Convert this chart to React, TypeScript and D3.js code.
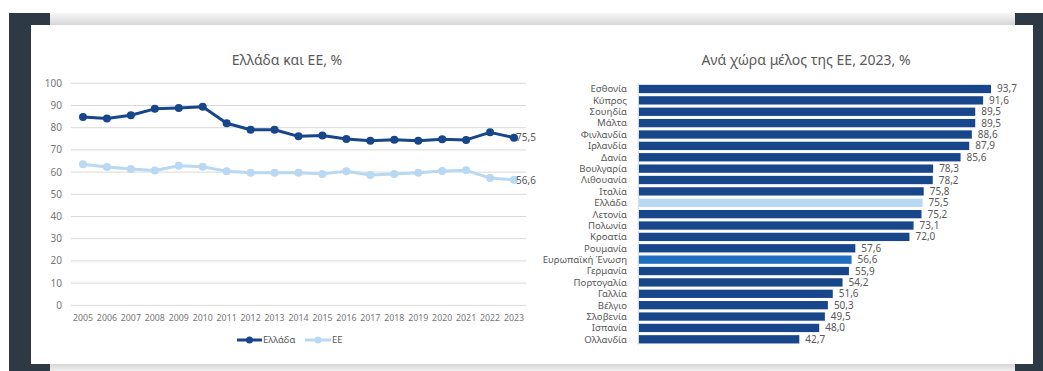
import React from "react";
import * as d3 from "d3";

const years = ["2005","2006","2007","2008","2009","2010","2011","2012","2013","2014","2015","2016","2017","2018","2019","2020","2021","2022","2023"];
const greece = [84.8,84.1,85.6,88.5,88.9,89.4,82.0,79.1,79.1,76.1,76.5,74.9,74.1,74.6,74.1,74.8,74.5,77.9,75.5];
const eu = [63.5,62.3,61.4,60.7,62.9,62.4,60.4,59.7,59.7,59.7,59.2,60.4,58.7,59.1,59.7,60.5,60.8,57.3,56.6];
const yTicks = [0,10,20,30,40,50,60,70,80,90,100];

const countries = ["Εσθονία","Κύπρος","Σουηδία","Μάλτα","Φινλανδία","Ιρλανδία","Δανία","Βουλγαρία","Λιθουανία","Ιταλία","Ελλάδα","Λετονία","Πολωνία","Κροατία","Ρουμανία","Ευρωπαϊκή Ένωση","Γερμανία","Πορτογαλία","Γαλλία","Βέλγιο","Σλοβενία","Ισπανία","Ολλανδία"];
const countryValues = [93.7,91.6,89.5,89.5,88.6,87.9,85.6,78.3,78.2,75.8,75.5,75.2,73.1,72.0,57.6,56.6,55.9,54.2,51.6,50.3,49.5,48.0,42.7];

const FONT = "'Noto Sans', sans-serif";
const DARK = "#17468a";
const LIGHT = "#b9d8f1";
const EUBAR = "#1f6fbe";
const TXT = "#595959";
const TICK = "#767676";
const GRID = "#d9d9d9";

const fmt = (v: number) => v.toFixed(1).replace(".", ",");

export default function App() {
  const x = d3.scaleBand<string>().domain(years).range([71, 526]);
  const y = d3.scaleLinear().domain([0, 100]).range([305.3, 83.3]);
  const cx = (d: string) => (x(d) as number) + x.bandwidth() / 2;
  const line = d3.line<number>().x((_, i) => cx(years[i])).y((v) => y(v));

  const by = d3.scaleBand<string>().domain(countries).range([83.3, 345]).paddingInner(0.27).paddingOuter(0.135);
  const bx = d3.scaleLinear().domain([0, 100]).range([638.8, 1014.7]);

  const last = years.length - 1;

  return (
    <svg width={1043} height={371} style={{ position: "absolute", left: 0, top: 0 }} fontFamily={FONT}>
      <defs>
        <linearGradient id="gTop" x1="0" y1="0" x2="0" y2="1">
          <stop offset="0" stopColor="#f7f7f7" />
          <stop offset="1" stopColor="#d6d6d6" />
        </linearGradient>
        <linearGradient id="gBot" x1="0" y1="0" x2="0" y2="1">
          <stop offset="0" stopColor="#d6d6d6" />
          <stop offset="1" stopColor="#efefef" />
        </linearGradient>
      </defs>
      <rect x={0} y={0} width={1043} height={371} fill="#ffffff" />
      <rect x={9} y={13} width={1034} height={358} fill="#2e3946" />
      <rect x={50} y={13} width={965} height={12} fill="url(#gTop)" />
      <rect x={50} y={364} width={965} height={7} fill="url(#gBot)" />
      <rect x={31} y={25} width={1002} height={339} fill="#ffffff" />

      {/* Left chart */}
      <text x={287} y={65} textAnchor="middle" fontSize={14} fill={TXT}>Ελλάδα και ΕΕ, %</text>
      {yTicks.map((t) => (
        <g key={t}>
          <line x1={71} x2={526} y1={y(t)} y2={y(t)} stroke={GRID} strokeWidth={1} />
          <text x={62} y={y(t)} dy="0.35em" textAnchor="end" fontSize={10} fill={TICK}>{t}</text>
        </g>
      ))}
      {years.map((yr) => (
        <text key={yr} x={cx(yr)} y={318} dy="0.35em" textAnchor="middle" fontSize={8.8} fill={TICK}>{yr}</text>
      ))}
      <path d={line(eu) || ""} fill="none" stroke={LIGHT} strokeWidth={3} strokeLinejoin="round" />
      {eu.map((v, i) => <circle key={"e" + i} cx={cx(years[i])} cy={y(v)} r={4} fill={LIGHT} />)}
      <path d={line(greece) || ""} fill="none" stroke={DARK} strokeWidth={3} strokeLinejoin="round" />
      {greece.map((v, i) => <circle key={"g" + i} cx={cx(years[i])} cy={y(v)} r={4} fill={DARK} />)}
      <text x={cx(years[last]) + 2} y={y(greece[last])} dy="0.35em" fontSize={10} fill={TXT}>{fmt(greece[last])}</text>
      <text x={cx(years[last]) + 2} y={y(eu[last]) + 1} dy="0.35em" fontSize={10} fill={TXT}>{fmt(eu[last])}</text>

      {/* Legend */}
      <line x1={237} x2={262} y1={340} y2={340} stroke={DARK} strokeWidth={3} />
      <circle cx={249.5} cy={340} r={3.5} fill={DARK} />
      <text x={263} y={340} dy="0.35em" fontSize={9.5} fill={TXT}>Ελλάδα</text>
      <line x1={305} x2={331} y1={340} y2={340} stroke={LIGHT} strokeWidth={3} />
      <circle cx={318} cy={340} r={3.5} fill={LIGHT} />
      <text x={332} y={340} dy="0.35em" fontSize={9.5} fill={TXT}>ΕΕ</text>

      {/* Right chart */}
      <text x={806} y={65} textAnchor="middle" fontSize={14} fill={TXT}>Ανά χώρα μέλος της ΕΕ, 2023, %</text>
      {countries.map((c, i) => {
        const yy = by(c) as number;
        const fill = c === "Ελλάδα" ? LIGHT : c === "Ευρωπαϊκή Ένωση" ? EUBAR : DARK;
        return (
          <g key={c}>
            <rect x={bx(0)} y={yy} width={bx(countryValues[i]) - bx(0)} height={by.bandwidth()} fill={fill} />
            <text x={627} y={yy + by.bandwidth() / 2} dy="0.35em" textAnchor="end" fontSize={9.6} fill={TXT}>{c}</text>
            <text x={bx(countryValues[i]) + 6} y={yy + by.bandwidth() / 2} dy="0.35em" fontSize={10} fill={TXT}>{fmt(countryValues[i])}</text>
          </g>
        );
      })}
      <line x1={bx(0) - 0.5} x2={bx(0) - 0.5} y1={83} y2={345} stroke={GRID} strokeWidth={1} />
    </svg>
  );
}
